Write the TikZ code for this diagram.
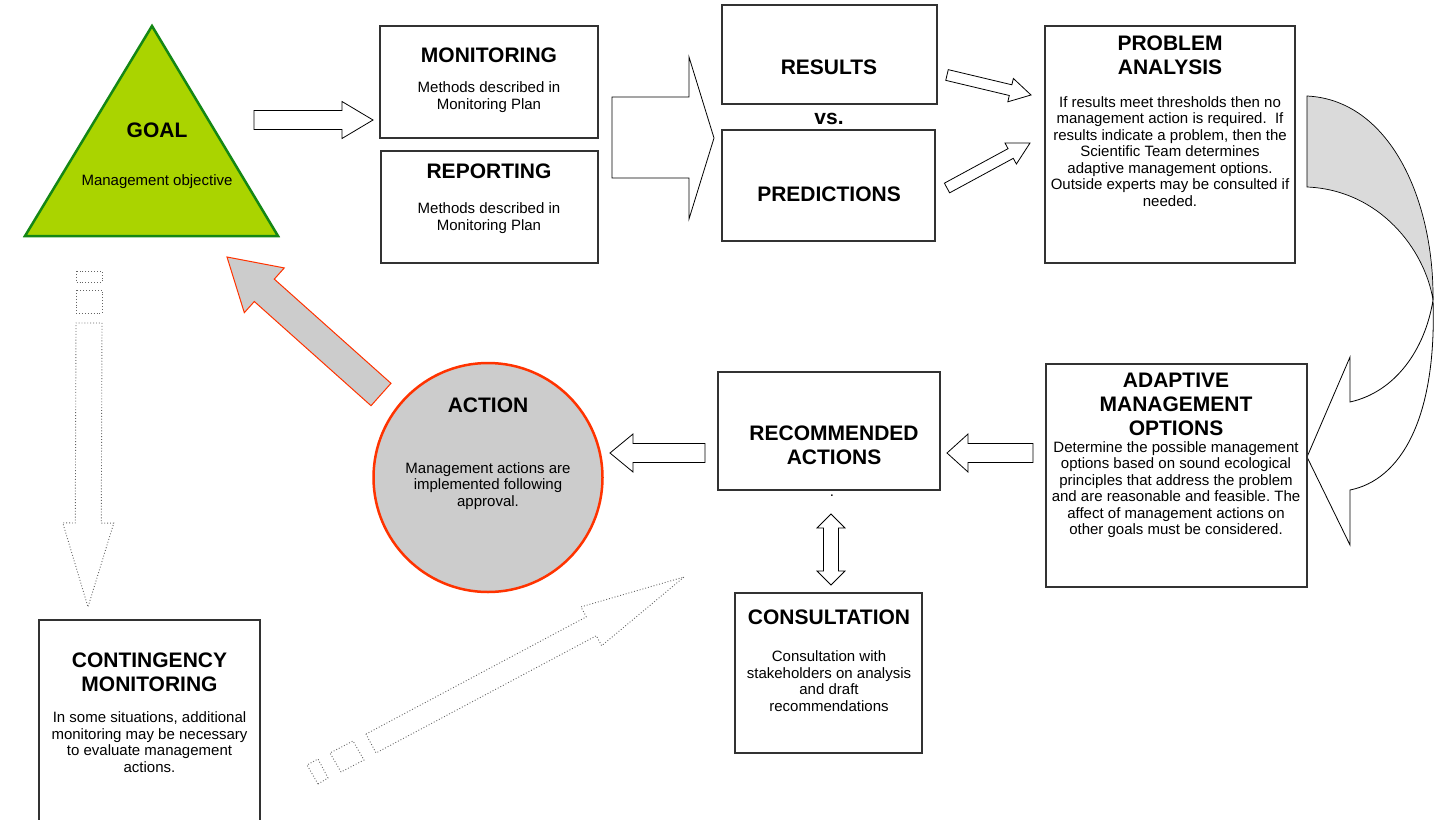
\documentclass[tikz,border=0pt]{standalone}
\usepackage{fontspec}
\setmainfont{Liberation Sans}
\usetikzlibrary{calc}
\frenchspacing
\definecolor{goalfill}{RGB}{170,212,0}
\definecolor{goalline}{RGB}{20,135,20}
\definecolor{actred}{RGB}{255,51,0}
\definecolor{actgrey}{RGB}{204,204,204}
\definecolor{curvgrey}{RGB}{218,218,218}
\definecolor{boxline}{RGB}{50,50,50}
\definecolor{dotline}{RGB}{100,100,100}
% block arrow: [style]{tail}{tip}{body half width}{head half width}{head length}
\newcommand{\blockarrow}[6][]{%
  \coordinate (bah) at ($(#3)!#6!(#2)$);
  \draw[#1] ($(#2)!#4!90:(#3)$) -- ($(bah)!#4!90:(#3)$) -- ($(bah)!#5!90:(#3)$) -- (#3)
    -- ($(bah)!#5!-90:(#3)$) -- ($(bah)!#4!-90:(#3)$) -- ($(#2)!#4!-90:(#3)$) -- cycle;}
% double block arrow: [style]{tipA}{tipB}{body half width}{head half width}{head length}
\newcommand{\dblarrow}[6][]{%
  \coordinate (dah) at ($(#2)!#6!(#3)$);
  \coordinate (dbh) at ($(#3)!#6!(#2)$);
  \draw[#1] (#2) -- ($(dah)!#5!90:(#3)$) -- ($(dah)!#4!90:(#3)$) -- ($(dbh)!#4!-90:(#2)$)
    -- ($(dbh)!#5!-90:(#2)$) -- (#3) -- ($(dbh)!#5!90:(#2)$) -- ($(dbh)!#4!90:(#2)$)
    -- ($(dah)!#4!-90:(#3)$) -- ($(dah)!#5!-90:(#3)$) -- cycle;}
\begin{document}
\begin{tikzpicture}[x=1pt,y=-1pt,
  box/.style={draw=boxline, line width=1.1pt, fill=white, rectangle, inner sep=0pt},
  ttl/.style={font=\fontsize{21}{24}\selectfont\bfseries, align=center, inner sep=0pt},
  txt/.style={font=\fontsize{15}{16.5}\selectfont, align=center, inner sep=0pt},
  whitearrow/.style={draw=black, line width=0.8pt, fill=white, line join=miter},
  redarrow/.style={draw=actred, line width=1pt, fill=actgrey, line join=miter},
  dotarrow/.style={draw=dotline, line width=0.9pt, dotted, fill=white},
  thinline/.style={draw=black, line width=0.8pt}]
\useasboundingbox (0,0) rectangle (1450,819);
\clip (0,0) rectangle (1450,819);

% ---------- GOAL ----------
\draw[fill=goalfill, draw=goalline, line width=2.5pt, line join=miter] (152,26) -- (278,236) -- (25,236) -- cycle;
\node[ttl] (goalt) at (157,130) {GOAL};
\node[txt] (goalb) at (157,182) {Management objective};

% ---------- MONITORING / REPORTING ----------
\node[box, minimum width=218pt, minimum height=112pt] (mon) at (489,82) {};
\node[ttl] (mont) at (489,55) {MONITORING};
\node[txt] (monb) at (489,97) {Methods described in\\Monitoring Plan};
\node[box, minimum width=217pt, minimum height=112pt] (rep) at (489.5,207) {};
\node[ttl] (rept) at (489,171) {REPORTING};
\node[txt] (repb) at (489,218) {Methods described in\\Monitoring Plan};

% goal -> monitoring arrow
\coordinate (gma) at (254,120);
\coordinate (gmb) at (373,120);
\blockarrow[whitearrow]{gma}{gmb}{9.5pt}{18.5pt}{31pt}

% bracket arrow
\draw[thinline, fill=white] (612,97) -- (689,97) -- (689,57) -- (714,138) -- (689,219) -- (689,178) -- (612,178) -- cycle;

% ---------- RESULTS / PREDICTIONS ----------
\node[box, minimum width=215pt, minimum height=99pt] (res) at (829.5,54.5) {};
\node[ttl] (rest) at (829,67) {RESULTS};
\node[ttl] (vs) at (829,119) {vs.};
\node[box, minimum width=213pt, minimum height=111pt] (pred) at (828.5,185.5) {};
\node[ttl] (predt) at (829,194) {PREDICTIONS};

\coordinate (rpa) at (947,75);
\coordinate (rpb) at (1031,95);
\blockarrow[whitearrow]{rpa}{rpb}{5.5pt}{12pt}{21pt}
\coordinate (ppa) at (947,188);
\coordinate (ppb) at (1030,143);
\blockarrow[whitearrow]{ppa}{ppb}{5.5pt}{12pt}{22pt}

% ---------- PROBLEM ANALYSIS ----------
\node[box, minimum width=250pt, minimum height=237pt] (prob) at (1170,144.5) {};
\node[ttl] (probt) at (1170,55) {PROBLEM\\ANALYSIS};
\node[txt] (probb) at (1170,151.5) {If results meet thresholds then no\\management action is required.\ \ If\\results indicate a problem, then the\\Scientific Team determines\\adaptive management options.\\Outside experts may be consulted if\\needed.};

% ---------- curved arrow ----------
\draw[thinline, line width=0.7pt, fill=curvgrey] (1307,96) .. controls (1390,100) and (1434,200) .. (1433,300)
  .. controls (1425,250) and (1380,190) .. (1307,187) -- cycle;
\draw[thinline, fill=white, line join=miter] (1433,300) .. controls (1425,350) and (1395,392) .. (1350,402)
  -- (1350,357) -- (1307,457) -- (1350,545) -- (1350,490)
  .. controls (1400,480) and (1437,420) .. (1433,300) -- cycle;

% ---------- ADAPTIVE MANAGEMENT OPTIONS ----------
\node[box, minimum width=261pt, minimum height=223pt] (adapt) at (1176.5,475.5) {};
\node[ttl] (adaptt) at (1176,404) {ADAPTIVE\\MANAGEMENT\\OPTIONS};
\node[txt] (adaptb) at (1176,489.5) {Determine the possible management\\options based on sound ecological\\principles that address the problem\\and are reasonable and feasible. The\\affect of management actions on\\other goals must be considered.};

% ---------- RECOMMENDED ACTIONS ----------
\node[box, minimum width=222pt, minimum height=118pt] (rec) at (829,431) {};
\node[ttl] (rect) at (834,445.5) {RECOMMENDED\\ACTIONS};
\node[txt] (dot) at (832,496) {.};

\coordinate (ara) at (1033,453);
\coordinate (arb) at (947,453);
\blockarrow[whitearrow]{ara}{arb}{9.5pt}{19pt}{21pt}
\coordinate (raa) at (705,453);
\coordinate (rab) at (610,453);
\blockarrow[whitearrow]{raa}{rab}{9.5pt}{19pt}{23pt}

% ---------- ACTION ----------
\node[circle, draw=actred, fill=actgrey, line width=2.5pt, minimum size=229pt, inner sep=0pt] (action) at (488,477.5) {};
\node[ttl] (actiont) at (488,405) {ACTION};
\node[txt] (actionb) at (488,486) {Management actions are\\implemented following\\approval.};

\coordinate (aga) at (381,394.5);
\coordinate (agb) at (227,257);
\blockarrow[redarrow]{aga}{agb}{15pt}{30pt}{50pt}

% ---------- CONSULTATION ----------
\coordinate (cda) at (831,514);
\coordinate (cdb) at (831,585);
\dblarrow[whitearrow]{cda}{cdb}{7.5pt}{14pt}{14pt}
\node[box, minimum width=187pt, minimum height=160pt] (cons) at (828.5,673) {};
\node[ttl] (const) at (829,617) {CONSULTATION};
\node[txt] (consb) at (829,681) {Consultation with\\stakeholders on analysis\\and draft\\recommendations};

% ---------- CONTINGENCY ----------
\draw[dotarrow] (76,271) rectangle (102,282);
\draw[dotarrow] (76,290) rectangle (102,313);
\coordinate (cma) at (89,323);
\coordinate (cmb) at (88,607);
\blockarrow[dotarrow]{cma}{cmb}{13pt}{25.5pt}{84pt}
\node[box, minimum width=221pt, minimum height=215pt] (cont) at (149.5,727.5) {};
\node[ttl] (contt) at (149.5,672) {CONTINGENCY\\MONITORING};
\node[txt] (contb) at (149.5,742) {In some situations, additional\\monitoring may be necessary\\to evaluate management\\actions.};

% diagonal dotted arrow
\draw[dotarrow] (318,784) -- (307,765) -- (318,759) -- (328,778) -- cycle;
\draw[dotarrow] (341,772) -- (330,753) -- (353,741) -- (364,760) -- cycle;
\coordinate (dia) at (371,743.5);
\coordinate (dib) at (684,577);
\blockarrow[dotarrow]{dia}{dib}{10.7pt}{22pt}{105pt}
\end{tikzpicture}
\end{document}
